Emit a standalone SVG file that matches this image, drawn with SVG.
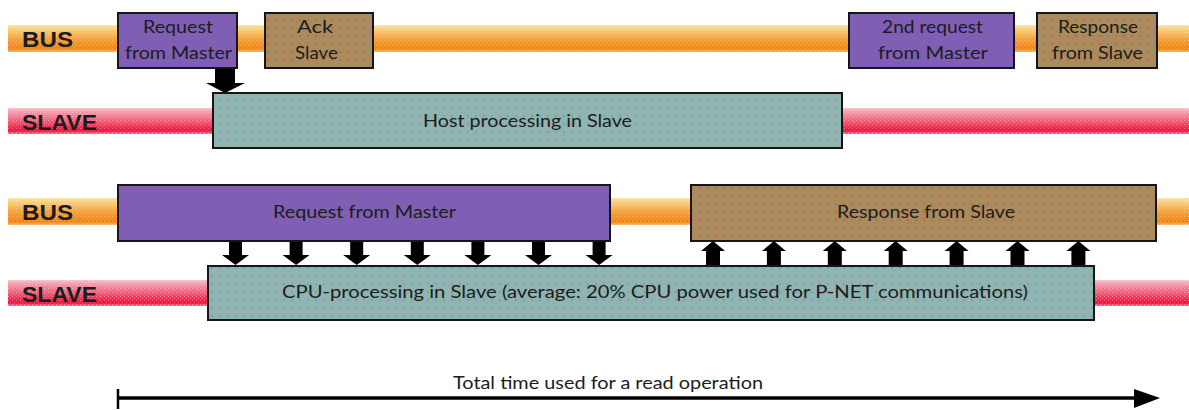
<svg xmlns="http://www.w3.org/2000/svg" width="1189" height="410" viewBox="0 0 1189 410">
  <style>
    .lane { font-family: "Liberation Sans", Arial, sans-serif; font-weight: bold; font-size: 22px; fill: #1c1c1c; }
    .lbl { font-family: Lato, "Open Sans", sans-serif; font-size: 18px; fill: #1c1c1c; text-anchor: middle; }
    .box { stroke: #161616; stroke-width: 2; }
    .arrow { fill: #000; }
  </style>
  <defs>
    <linearGradient id="busGrad" x1="0" y1="0" x2="0" y2="1">
      <stop offset="0" stop-color="#ffe3a0"/>
      <stop offset="0.15" stop-color="#ffd070"/>
      <stop offset="0.5" stop-color="#ffa030"/>
      <stop offset="0.88" stop-color="#ff8200"/>
      <stop offset="1" stop-color="#ffb860"/>
    </linearGradient>
    <linearGradient id="slaveGrad" x1="0" y1="0" x2="0" y2="1">
      <stop offset="0" stop-color="#ffc0cc"/>
      <stop offset="0.15" stop-color="#ff98ac"/>
      <stop offset="0.5" stop-color="#ff5a78"/>
      <stop offset="0.88" stop-color="#ff0a38"/>
      <stop offset="1" stop-color="#ff7890"/>
    </linearGradient>
    <pattern id="bandDots" width="4" height="4" patternUnits="userSpaceOnUse">
      <rect x="0" y="0" width="1" height="1" fill="#ffffff" opacity="0.35"/>
      <rect x="2" y="2" width="1" height="1" fill="#ffffff" opacity="0.25"/>
    </pattern>
    <pattern id="dotsPurple" width="8" height="8" patternUnits="userSpaceOnUse">
      <rect width="8" height="8" fill="#7d60b3"/>
      <rect x="3" y="3" width="2" height="2" fill="#a04cc4"/>
    </pattern>
    <pattern id="dotsTan" width="8" height="8" patternUnits="userSpaceOnUse">
      <rect width="8" height="8" fill="#a88b5e"/>
      <rect x="3" y="3" width="2" height="2" fill="#cc6436"/>
    </pattern>
    <pattern id="dotsTeal" width="8" height="8" patternUnits="userSpaceOnUse">
      <rect width="8" height="8" fill="#93b2b0"/>
      <rect x="3" y="3" width="2" height="2" fill="#48b8b6"/>
    </pattern>
  </defs>

  <rect width="1189" height="410" fill="#ffffff"/>

  <!-- lane bands -->
  <g id="lanes">
    <rect x="8" y="25" width="1181" height="27" fill="url(#busGrad)"/>
    <rect x="8" y="25" width="1181" height="27" fill="url(#bandDots)"/>
    <rect x="8" y="108" width="1181" height="26" fill="url(#slaveGrad)"/>
    <rect x="8" y="108" width="1181" height="26" fill="url(#bandDots)"/>
    <rect x="8" y="198" width="1181" height="27" fill="url(#busGrad)"/>
    <rect x="8" y="198" width="1181" height="27" fill="url(#bandDots)"/>
    <rect x="8" y="280" width="1181" height="26" fill="url(#slaveGrad)"/>
    <rect x="8" y="280" width="1181" height="26" fill="url(#bandDots)"/>
    <text class="lane" x="22" y="47" textLength="51" lengthAdjust="spacingAndGlyphs">BUS</text>
    <text class="lane" x="22" y="130" textLength="75" lengthAdjust="spacingAndGlyphs">SLAVE</text>
    <text class="lane" x="22" y="220" textLength="51" lengthAdjust="spacingAndGlyphs">BUS</text>
    <text class="lane" x="22" y="302" textLength="75" lengthAdjust="spacingAndGlyphs">SLAVE</text>
  </g>

  <!-- connectors: data-transfer arrows between bus and slave -->
  <g id="connectors">
    <!-- request handed to slave host -->
    <polygon class="arrow" points="215,68 235,68 235,83 245,83 225,93 206,83 215,83"/>
    <!-- request bytes passed to CPU -->
    <g id="downArrows">
      <polygon class="arrow" points="229,241 242,241 242,255 249,255 235.5,265 222,255 229,255"/>
      <polygon class="arrow" transform="translate(60.6,0)" points="229,241 242,241 242,255 249,255 235.5,265 222,255 229,255"/>
      <polygon class="arrow" transform="translate(121.2,0)" points="229,241 242,241 242,255 249,255 235.5,265 222,255 229,255"/>
      <polygon class="arrow" transform="translate(181.8,0)" points="229,241 242,241 242,255 249,255 235.5,265 222,255 229,255"/>
      <polygon class="arrow" transform="translate(242.4,0)" points="229,241 242,241 242,255 249,255 235.5,265 222,255 229,255"/>
      <polygon class="arrow" transform="translate(303,0)" points="229,241 242,241 242,255 249,255 235.5,265 222,255 229,255"/>
      <polygon class="arrow" transform="translate(363.6,0)" points="229,241 242,241 242,255 249,255 235.5,265 222,255 229,255"/>
    </g>
    <!-- response bytes sent from CPU -->
    <g id="upArrows">
      <polygon class="arrow" points="706,266 720,266 720,251 725,251 713,241 701,251 706,251"/>
      <polygon class="arrow" transform="translate(60.9,0)" points="706,266 720,266 720,251 725,251 713,241 701,251 706,251"/>
      <polygon class="arrow" transform="translate(121.8,0)" points="706,266 720,266 720,251 725,251 713,241 701,251 706,251"/>
      <polygon class="arrow" transform="translate(182.7,0)" points="706,266 720,266 720,251 725,251 713,241 701,251 706,251"/>
      <polygon class="arrow" transform="translate(243.6,0)" points="706,266 720,266 720,251 725,251 713,241 701,251 706,251"/>
      <polygon class="arrow" transform="translate(304.5,0)" points="706,266 720,266 720,251 725,251 713,241 701,251 706,251"/>
      <polygon class="arrow" transform="translate(365.4,0)" points="706,266 720,266 720,251 725,251 713,241 701,251 706,251"/>
    </g>
    <!-- total time axis -->
    <g id="timeAxis">
      <line x1="118" y1="389" x2="118" y2="409" stroke="#000" stroke-width="2.5"/>
      <line x1="118" y1="398" x2="1138" y2="398" stroke="#000" stroke-width="3.5"/>
      <polygon class="arrow" points="1134,389 1160,398 1134,408"/>
    </g>
  </g>

  <!-- upper sequence: request, ack, host processing, second request, response -->
  <g id="req1">
    <rect class="box" x="118" y="13" width="119" height="55" fill="url(#dotsPurple)"/>
    <text class="lbl" x="178" y="33" textLength="70" lengthAdjust="spacingAndGlyphs">Request</text>
    <text class="lbl" x="178.5" y="59" textLength="107" lengthAdjust="spacingAndGlyphs">from Master</text>
  </g>
  <g id="ack">
    <rect class="box" x="265" y="13" width="108" height="55" fill="url(#dotsTan)"/>
    <text class="lbl" x="315" y="33" textLength="36" lengthAdjust="spacingAndGlyphs">Ack</text>
    <text class="lbl" x="316.5" y="59" textLength="43" lengthAdjust="spacingAndGlyphs">Slave</text>
  </g>
  <g id="host">
    <rect class="box" x="213" y="93" width="629" height="55" fill="url(#dotsTeal)"/>
    <text class="lbl" x="527.5" y="127" textLength="209" lengthAdjust="spacingAndGlyphs">Host processing in Slave</text>
  </g>
  <g id="req2">
    <rect class="box" x="849" y="13" width="165" height="55" fill="url(#dotsPurple)"/>
    <text class="lbl" x="932.5" y="33" textLength="101" lengthAdjust="spacingAndGlyphs">2nd request</text>
    <text class="lbl" x="933" y="59" textLength="110" lengthAdjust="spacingAndGlyphs">from Master</text>
  </g>
  <g id="resp1">
    <rect class="box" x="1037" y="13" width="120" height="55" fill="url(#dotsTan)"/>
    <text class="lbl" x="1098" y="33" textLength="80" lengthAdjust="spacingAndGlyphs">Response</text>
    <text class="lbl" x="1097.5" y="59" textLength="91" lengthAdjust="spacingAndGlyphs">from Slave</text>
  </g>

  <!-- lower sequence: streamed request and response with CPU processing -->
  <g id="req3">
    <rect class="box" x="118" y="185" width="492" height="56" fill="url(#dotsPurple)"/>
    <text class="lbl" x="364.5" y="218" textLength="183" lengthAdjust="spacingAndGlyphs">Request from Master</text>
  </g>
  <g id="resp2">
    <rect class="box" x="691" y="185" width="465" height="56" fill="url(#dotsTan)"/>
    <text class="lbl" x="926" y="218" textLength="178" lengthAdjust="spacingAndGlyphs">Response from Slave</text>
  </g>
  <g id="cpu">
    <rect class="box" x="208" y="266" width="886" height="54" fill="url(#dotsTeal)"/>
    <text class="lbl" x="655" y="298" textLength="746" lengthAdjust="spacingAndGlyphs">CPU-processing in Slave (average: 20% CPU power used for P-NET communications)</text>
  </g>

  <g id="timeLabel">
    <text class="lbl" x="608" y="389" font-size="17" textLength="310" lengthAdjust="spacingAndGlyphs">Total time used for a read operation</text>
  </g>
</svg>
